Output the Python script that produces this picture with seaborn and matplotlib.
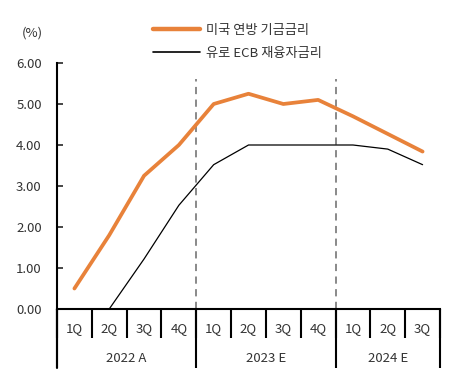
import numpy as np
import pandas as pd
import matplotlib
matplotlib.use("Agg")
import matplotlib.pyplot as plt
import matplotlib.transforms as mtransforms
from matplotlib.lines import Line2D
import seaborn as sns

sns.set_style("white")
plt.rcParams['font.family'] = ['Noto Sans CJK KR', 'DejaVu Sans']

# ============================
# DADOS
# ============================
quarters = ['1Q', '2Q', '3Q', '4Q', '1Q', '2Q', '3Q', '4Q', '1Q', '2Q', '3Q']
years = ['2022 A', '2023 E', '2024 E']
year_sizes = [4, 4, 3]
us_rate = [0.50, 1.80, 3.25, 4.00, 5.00, 5.25, 5.00, 5.10, 4.70, 4.27, 3.84]
ecb_rate = [0.00, 0.00, 1.22, 2.53, 3.52, 4.00, 4.00, 4.00, 4.00, 3.90, 3.52]
us_label = '미국 연방 기금금리'
ecb_label = '유로 ECB 재융자금리'

df = pd.DataFrame({'pos': np.arange(len(quarters)), 'us': us_rate, 'ecb': ecb_rate})

fig = plt.figure(figsize=(4.72, 3.89), dpi=100)
ax = fig.add_axes([57 / 472, 1 - 309 / 389, (440 - 57) / 472, (309 - 63) / 389])

orange = '#E8823A'
txt = '#333333'

sns.lineplot(data=df, x='pos', y='ecb', ax=ax, color='black', linewidth=0.9,
             label=ecb_label, zorder=3)
sns.lineplot(data=df, x='pos', y='us', ax=ax, color=orange, linewidth=2.7,
             label=us_label, zorder=4, solid_capstyle='round')

# separadores tracejados entre anos
bounds = np.cumsum(year_sizes)[:-1] - 0.5
for b in bounds:
    ax.axvline(b, ymin=0, ymax=0.935, color='#808080', linestyle=(0, (4, 3)),
               linewidth=1.3, zorder=2)

ax.set_xlim(-0.5, len(quarters) - 0.5)
ax.set_ylim(0, 6)
ax.set_yticks(np.arange(0, 7, 1))
ax.set_yticklabels([f"{v:.2f}" for v in range(7)], color=txt, fontsize=9.5)
ax.tick_params(axis='y', direction='in', length=4, width=1.2, pad=11, left=True)

# eixo x: marcas nos limites dos trimestres, rótulos no centro
ax.set_xticks(np.arange(0, len(quarters) + 1) - 0.5)
ax.set_xticklabels([])
ax.tick_params(axis='x', which='major', direction='out', length=21, width=1.5,
               bottom=True, color='black')
ax.set_xlabel('')
ax.set_ylabel('')

trans = mtransforms.blended_transform_factory(ax.transData, ax.transAxes)
for i, q in enumerate(quarters):
    ax.text(i, -0.078, q, transform=trans, ha='center', va='center',
            fontsize=9.5, color=txt)

edges = np.concatenate([[0], np.cumsum(year_sizes)]) - 0.5
for e in edges:
    ax.plot([e, e], [0, -0.24], transform=trans, color='black', linewidth=1.5,
            clip_on=False, solid_capstyle='butt')
for k, y in enumerate(years):
    mid = (edges[k] + edges[k + 1]) / 2
    ax.text(mid, -0.2, y, transform=trans, ha='center', va='center',
            fontsize=9.5, color=txt)

for s in ['top', 'right']:
    ax.spines[s].set_visible(False)
ax.spines['left'].set_color('black')
ax.spines['left'].set_linewidth(1.5)
ax.spines['left'].set_bounds(0, 6)
ax.spines['bottom'].set_color('black')
ax.spines['bottom'].set_linewidth(1.5)

# eixo esquerdo prolongado até a linha dos anos
ax.plot([-0.5, -0.5], [0, -0.24], transform=trans, color='black', linewidth=1.5,
        clip_on=False)

fig.text(22 / 472, 1 - 33 / 389, '(%)', ha='left', va='center', fontsize=9.5, color=txt)

handles = [Line2D([0], [0], color=orange, linewidth=3.2),
           Line2D([0], [0], color='black', linewidth=1.2)]
ax.legend(handles, [us_label, ecb_label], loc='upper left',
          bbox_to_anchor=(141 / 472, 1 - 12 / 389), bbox_transform=fig.transFigure,
          frameon=False, fontsize=9.5, handlelength=3.6, handletextpad=0.4,
          labelspacing=0.75, labelcolor=txt)

plt.savefig('out.png', dpi=100)
plt.close()
